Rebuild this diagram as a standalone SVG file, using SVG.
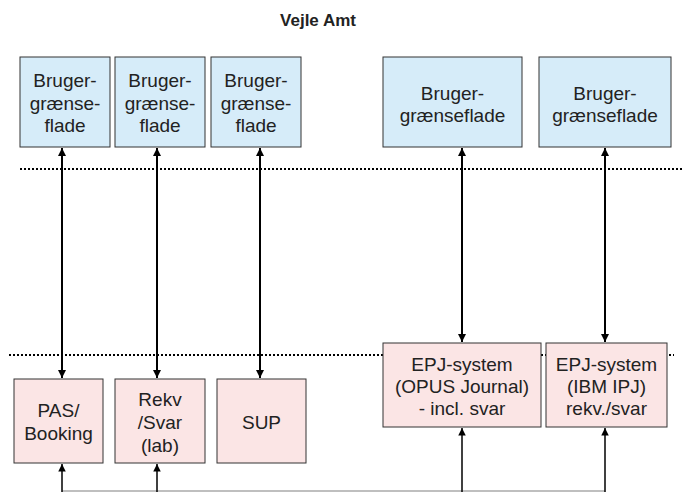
<svg xmlns="http://www.w3.org/2000/svg" width="682" height="492" viewBox="0 0 682 492">
<defs>
<style>
.t{font-family:"Liberation Sans",Arial,sans-serif;font-size:19px;fill:#222;text-anchor:middle}
.title{font-family:"Liberation Sans",Arial,sans-serif;font-size:17px;font-weight:bold;fill:#222;text-anchor:middle}
.ui{fill:#d6ecf9;stroke:#333;stroke-width:1}
.sys{fill:#fbe5e5;stroke:#333;stroke-width:1}
.dot{stroke:#000;stroke-width:2;stroke-dasharray:2 2;fill:none}
.a{stroke:#000;stroke-width:2;fill:none}
.b{stroke:#000;stroke-width:1.5;fill:none}
</style>
<marker id="ah" viewBox="0 0 10 10" refX="10" refY="5" markerWidth="4" markerHeight="4" orient="auto-start-reverse" markerUnits="strokeWidth">
<path d="M0,0 L10,5 L0,10 z" fill="#000"/>
</marker>
<marker id="ah2" viewBox="0 0 10 10" refX="10" refY="5" markerWidth="5" markerHeight="5" orient="auto" markerUnits="strokeWidth">
<path d="M0,0 L10,5 L0,10 z" fill="#000"/>
</marker>
</defs>
<rect width="682" height="492" fill="#fff"/>
<text class="title" x="318" y="26">Vejle Amt</text>

<g id="separators">
<line class="dot" x1="20" y1="169" x2="682" y2="169"/>
<line class="dot" x1="9" y1="355" x2="674" y2="355"/>
</g>

<g id="ui1"><rect class="ui" x="20" y="57" width="90" height="90"/>
<text class="t" x="65" y="87">Bruger-</text><text class="t" x="65" y="110">grænse-</text><text class="t" x="65" y="132">flade</text></g>
<g id="ui2"><rect class="ui" x="115" y="57" width="90" height="90"/>
<text class="t" x="160" y="87">Bruger-</text><text class="t" x="160" y="110">grænse-</text><text class="t" x="160" y="132">flade</text></g>
<g id="ui3"><rect class="ui" x="211" y="57" width="90" height="90"/>
<text class="t" x="256" y="87">Bruger-</text><text class="t" x="256" y="110">grænse-</text><text class="t" x="256" y="132">flade</text></g>
<g id="ui4"><rect class="ui" x="383" y="57" width="139" height="90"/>
<text class="t" x="452.5" y="100">Bruger-</text><text class="t" x="452.5" y="122">grænseflade</text></g>
<g id="ui5"><rect class="ui" x="539" y="57" width="132" height="90"/>
<text class="t" x="605" y="100">Bruger-</text><text class="t" x="605" y="122">grænseflade</text></g>

<g id="pas"><rect class="sys" x="14" y="379" width="89" height="84"/>
<text class="t" x="58.5" y="417">PAS/</text><text class="t" x="58.5" y="440">Booking</text></g>
<g id="rekv"><rect class="sys" x="115" y="379" width="90" height="84"/>
<text class="t" x="160" y="406">Rekv</text><text class="t" x="160" y="429">/Svar</text><text class="t" x="160" y="452">(lab)</text></g>
<g id="sup"><rect class="sys" x="217" y="379" width="89" height="84"/>
<text class="t" x="261.5" y="429">SUP</text></g>
<g id="epj1"><rect class="sys" x="383" y="343" width="158" height="84"/>
<text class="t" x="462" y="371">EPJ-system</text><text class="t" x="462" y="393">(OPUS Journal)</text><text class="t" x="462" y="415">- incl. svar</text></g>
<g id="epj2"><rect class="sys" x="546" y="343" width="121" height="84"/>
<text class="t" x="606.5" y="371">EPJ-system</text><text class="t" x="606.5" y="393">(IBM IPJ)</text><text class="t" x="606.5" y="415">rekv./svar</text></g>

<g id="connectors">
<line class="a" x1="62" y1="148" x2="62" y2="378" marker-start="url(#ah)" marker-end="url(#ah)"/>
<line class="a" x1="157" y1="148" x2="157" y2="378" marker-start="url(#ah)" marker-end="url(#ah)"/>
<line class="a" x1="260" y1="148" x2="260" y2="378" marker-start="url(#ah)" marker-end="url(#ah)"/>
<line class="a" x1="462" y1="148" x2="462" y2="342" marker-start="url(#ah)" marker-end="url(#ah)"/>
<line class="a" x1="605" y1="148" x2="605" y2="342" marker-start="url(#ah)" marker-end="url(#ah)"/>
<line x1="62" y1="491" x2="605" y2="491" stroke="#aaa" stroke-width="1.5"/>
<line class="b" x1="62" y1="492" x2="62" y2="464" marker-end="url(#ah2)"/>
<line class="b" x1="157" y1="492" x2="157" y2="464" marker-end="url(#ah2)"/>
<line class="b" x1="462" y1="492" x2="462" y2="428" marker-end="url(#ah2)"/>
<line class="b" x1="605" y1="492" x2="605" y2="428" marker-end="url(#ah2)"/>
</g>
</svg>
